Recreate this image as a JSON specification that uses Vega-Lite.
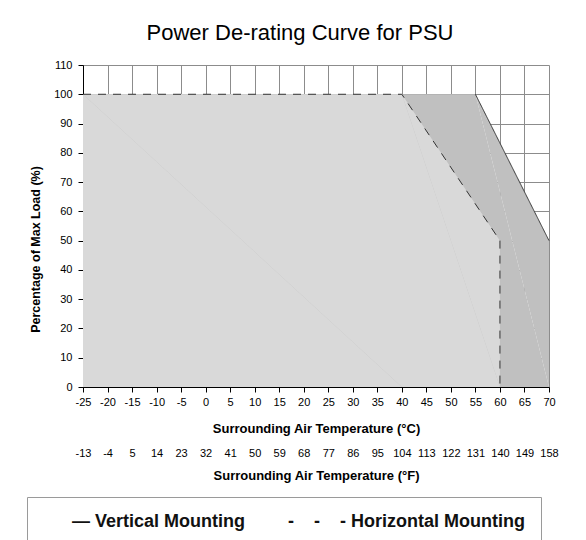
{
  "$schema": "https://vega.github.io/schema/vega-lite/v6.json",
  "autosize": {"type": "none"},
  "padding": {"left": 83, "top": 65, "right": 37, "bottom": 153},
  "width": 466,
  "height": 322,
  "config": {
    "font": "Liberation Sans",
    "view": {"stroke": null},
    "axis": {"labelColor": "#000", "titleColor": "#000"}
  },
  "title": {
    "text": "Power De-rating Curve for PSU",
    "fontSize": 22,
    "fontWeight": "normal",
    "color": "#000",
    "anchor": "middle",
    "dx": -16,
    "offset": 14
  },
  "data": {
    "values": [
      {"mounting": "Vertical Mounting", "temp": -25, "load": 100, "step": 1},
      {"mounting": "Vertical Mounting", "temp": 55, "load": 100, "step": 2},
      {"mounting": "Vertical Mounting", "temp": 70, "load": 50, "step": 3},
      {"mounting": "Horizontal Mounting", "temp": -25, "load": 100, "step": 1},
      {"mounting": "Horizontal Mounting", "temp": 40, "load": 100, "step": 2},
      {"mounting": "Horizontal Mounting", "temp": 60, "load": 50, "step": 3},
      {"mounting": "Horizontal Mounting", "temp": 60, "load": 0, "step": 4}
    ]
  },
  "resolve": {"axis": {"x": "independent"}},
  "encoding": {
    "y": {
      "field": "load", "type": "quantitative",
      "scale": {"domain": [0, 110], "nice": false},
      "axis": {
        "title": "Percentage of Max Load (%)",
        "values": [0, 10, 20, 30, 40, 50, 60, 70, 80, 90, 100, 110],
        "labelFontSize": 11, "labelPadding": 6,
        "tickSize": 5, "tickColor": "#000", "domainColor": "#000",
        "grid": true, "gridColor": "#8c8c8c",
        "titleFontSize": 12.5, "titleFontWeight": "bold", "titlePadding": 11,
        "titleY": 184
      }
    },
    "order": {"field": "step"}
  },
  "layer": [
    {
      "transform": [{"filter": "datum.mounting == 'Vertical Mounting'"}],
      "mark": {"type": "area", "color": "#c0c0c0", "opacity": 1},
      "encoding": {
        "x": {
          "field": "temp", "type": "quantitative",
          "scale": {"domain": [-25, 70], "nice": false, "zero": false},
          "axis": {
            "orient": "bottom",
            "title": "Surrounding Air Temperature (°C)",
            "values": [-25, -20, -15, -10, -5, 0, 5, 10, 15, 20, 25, 30, 35, 40, 45, 50, 55, 60, 65, 70],
            "labelExpr": "'' + datum.value",
            "labelFlush": false, "labelOverlap": false,
            "labelFontSize": 11, "labelPadding": 4,
            "tickSize": 5, "tickColor": "#000", "domainColor": "#000",
            "grid": true, "gridColor": "#8c8c8c",
            "titleFontSize": 13, "titleFontWeight": "bold", "titlePadding": 15
          }
        }
      }
    },
    {
      "transform": [{"filter": "datum.mounting == 'Horizontal Mounting'"}],
      "mark": {"type": "area", "color": "#d9d9d9", "opacity": 1},
      "encoding": {
        "x": {
          "field": "temp", "type": "quantitative",
          "scale": {"domain": [-25, 70], "nice": false, "zero": false},
          "axis": {
            "orient": "bottom",
            "offset": 58,
            "title": "Surrounding Air Temperature (°F)",
            "values": [-25, -20, -15, -10, -5, 0, 5, 10, 15, 20, 25, 30, 35, 40, 45, 50, 55, 60, 65, 70],
            "labelExpr": "'' + (datum.value * 9 / 5 + 32)",
            "labelFlush": false, "labelOverlap": false,
            "labelFontSize": 11, "labelPadding": 2,
            "domain": false, "ticks": false, "grid": false,
            "titleFontSize": 13, "titleFontWeight": "bold", "titlePadding": 11
          }
        }
      }
    },
    {
      "transform": [{"filter": "datum.mounting == 'Horizontal Mounting'"}],
      "mark": {"type": "line", "color": "#333", "strokeWidth": 1},
      "encoding": {
        "x": {"field": "temp", "type": "quantitative", "scale": {"domain": [-25, 70], "nice": false, "zero": false}, "axis": null},
        "strokeDash": {
          "field": "mounting", "type": "nominal",
          "scale": {"domain": ["Vertical Mounting", "Horizontal Mounting"], "range": [[1, 0], [8, 7]]},
          "legend": {
            "orient": "none", "legendX": -56, "legendY": 432, "direction": "horizontal", "title": null,
            "strokeColor": "#9a9a9a", "fillColor": "#ffffff", "padding": 16,
            "symbolOpacity": 0, "symbolSize": 0, "labelOffset": 11, "columnPadding": 13,
            "labelFontSize": 18, "labelFontWeight": "bold", "labelColor": "#111", "labelLimit": 400,
            "labelExpr": "datum.label == 'Vertical Mounting' ? '— Vertical Mounting' : '-\u00a0\u00a0\u00a0\u00a0-\u00a0\u00a0\u00a0\u00a0- Horizontal Mounting'"
          }
        }
      }
    },
    {
      "transform": [{"filter": "datum.mounting == 'Vertical Mounting' && datum.temp >= 55"}],
      "mark": {"type": "line", "color": "#333", "strokeWidth": 1},
      "encoding": {
        "x": {"field": "temp", "type": "quantitative", "scale": {"domain": [-25, 70], "nice": false, "zero": false}, "axis": null},
        "strokeDash": {
          "field": "mounting", "type": "nominal",
          "scale": {"domain": ["Vertical Mounting", "Horizontal Mounting"], "range": [[1, 0], [8, 7]]},
          "legend": {
            "orient": "none", "legendX": -56, "legendY": 432, "direction": "horizontal", "title": null,
            "strokeColor": "#9a9a9a", "fillColor": "#ffffff", "padding": 16,
            "symbolOpacity": 0, "symbolSize": 0, "labelOffset": 11, "columnPadding": 13,
            "labelFontSize": 18, "labelFontWeight": "bold", "labelColor": "#111", "labelLimit": 400,
            "labelExpr": "datum.label == 'Vertical Mounting' ? '— Vertical Mounting' : '-\u00a0\u00a0\u00a0\u00a0-\u00a0\u00a0\u00a0\u00a0- Horizontal Mounting'"
          }
        }
      }
    }
  ]
}
